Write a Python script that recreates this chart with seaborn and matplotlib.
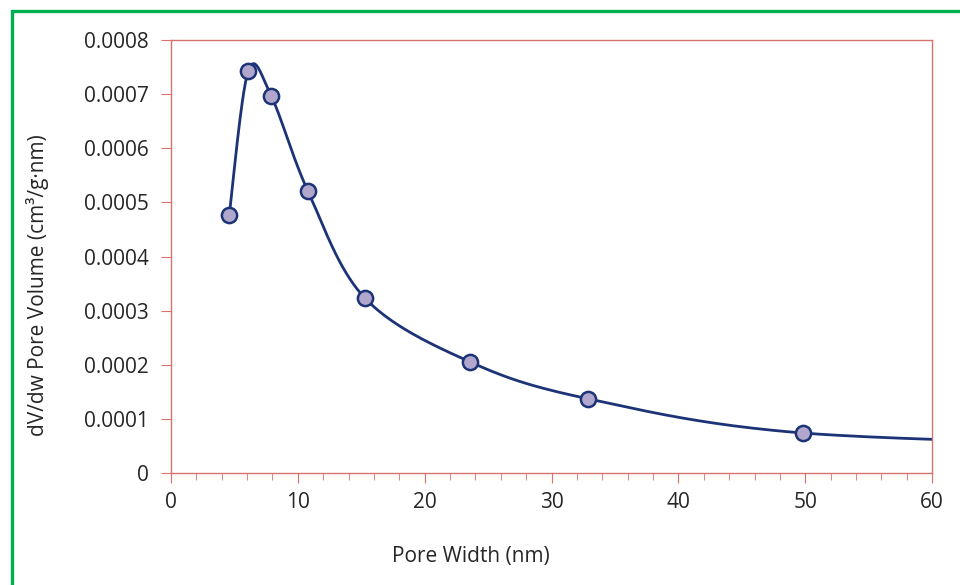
import numpy as np
import pandas as pd
import seaborn as sns
import matplotlib.pyplot as plt
from matplotlib.patches import Rectangle

# pore size distribution
pore_width = [4.6, 6.1, 7.9, 10.8, 15.3, 23.6, 32.9, 49.8, 80.0]
dv_dw = [0.000477, 0.000743, 0.000697, 0.000521, 0.000323, 0.000205, 0.000137, 0.0000739, 0.000050]
n_shown = 8  # last point lies beyond the axis, only the line reaches it

LINE = "#1c3477"
FACE = "#b1a7cc"
SPINE = "#d9716d"


def smooth(xs, ys, steps=40):
    # Excel-like smoothed line (Catmull-Rom through the points)
    p = np.column_stack([xs, ys]).astype(float)
    p = np.vstack([p[0], p, p[-1]])
    out = []
    t = np.linspace(0, 1, steps)[:, None]
    for i in range(1, len(p) - 2):
        p0, p1, p2, p3 = p[i - 1], p[i], p[i + 1], p[i + 2]
        c1 = p1 + (p2 - p0) / 6
        c2 = p2 - (p3 - p1) / 6
        seg = ((1 - t) ** 3) * p1 + 3 * ((1 - t) ** 2) * t * c1 + 3 * (1 - t) * t ** 2 * c2 + t ** 3 * p2
        out.append(seg if i == 1 else seg[1:])
    out = np.vstack(out)
    return out[:, 0], out[:, 1]


sns.set_style("white")
plt.rcParams['font.family'] = ['Open Sans', 'DejaVu Sans']

fig = plt.figure(figsize=(9.6, 5.85), dpi=100)
ax = fig.add_axes([0.178, 0.1915, 0.793, 0.740])

sx, sy = smooth(pore_width, dv_dw)
curve = pd.DataFrame({"x": sx, "y": sy})
pts = pd.DataFrame({"x": pore_width[:n_shown], "y": dv_dw[:n_shown]})

sns.lineplot(data=curve, x="x", y="y", ax=ax, color=LINE, lw=2, sort=False, zorder=2)
sns.scatterplot(data=pts, x="x", y="y", ax=ax, s=120, color=FACE,
                edgecolor=LINE, linewidth=1.8, zorder=3)

ax.set_xlim(0, 60)
ax.set_ylim(0, 0.0008)
ax.set_xticks(range(0, 61, 10))
ax.set_xticks(range(0, 61, 2), minor=True)
yt = np.arange(0, 0.00081, 0.0001)
ax.set_yticks(yt)
ax.set_yticklabels(["0"] + [f"{v:.4f}" for v in yt[1:]])

for s in ax.spines.values():
    s.set_color(SPINE)
    s.set_linewidth(1.0)
ax.tick_params(axis="both", which="major", direction="out", length=7, color=SPINE,
               labelsize=15, labelcolor="#262626", bottom=True, left=True)
ax.tick_params(axis="x", which="minor", direction="out", length=5, color=SPINE, bottom=True)
ax.tick_params(axis="x", pad=7)
ax.tick_params(axis="y", pad=9)

ax.set_xlabel("Pore Width (nm)", fontsize=15, color="#262626")
ax.set_ylabel("dV/dw Pore Volume (cm³/g·nm)", fontsize=15, color="#262626")
ax.xaxis.set_label_coords(0.394, -0.194)
ax.yaxis.set_label_coords(-0.175, 0.434)
ax.xaxis.label.set_va("center")
ax.yaxis.label.set_va("center")

fig.patches.append(Rectangle((12 / 960, -0.1), 1.2, 1 - 11 / 585 + 0.1, transform=fig.transFigure,
                             fill=False, edgecolor="#00b050", linewidth=2.4))

fig.savefig("out.png", dpi=100)
